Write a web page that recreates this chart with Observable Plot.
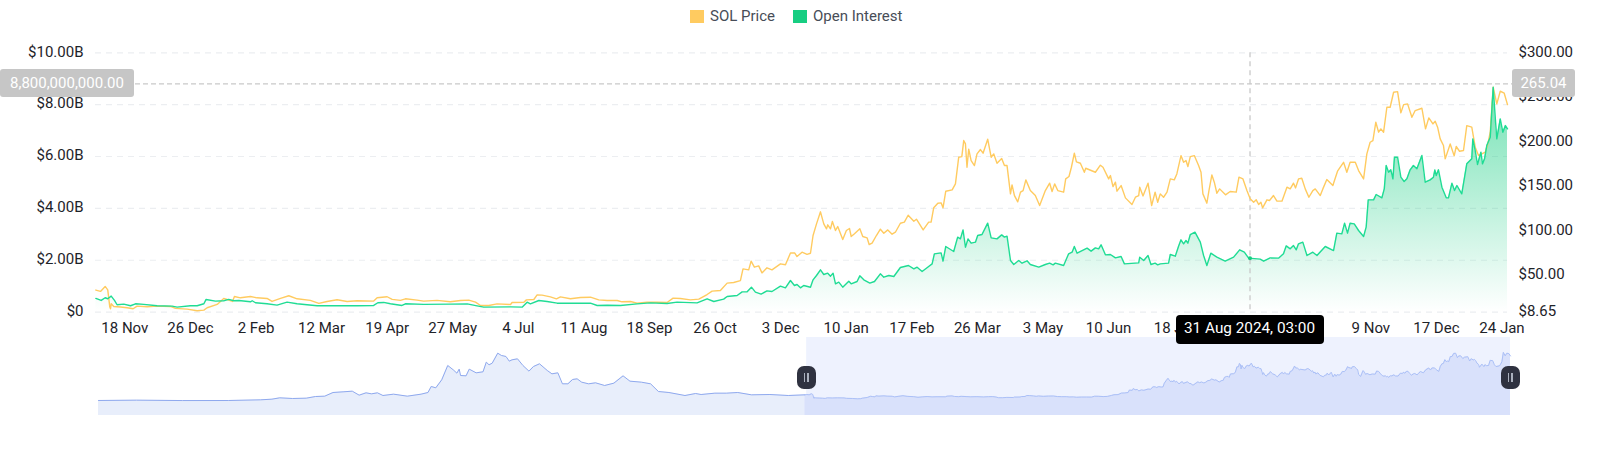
<!DOCTYPE html>
<html>
<head>
<meta charset="utf-8">
<script src="https://cdn.jsdelivr.net/npm/d3@7"></script>
<script src="https://cdn.jsdelivr.net/npm/@observablehq/plot@0.6"></script>
<style>
html,body{margin:0;padding:0;background:#fff;width:1600px;height:454px;overflow:hidden;font-family:Roboto,sans-serif}
#wrap{position:relative;width:1600px;height:454px}
#legend{position:relative;height:30px;width:1600px;color:#474d57;font-size:15px}
#legend span{position:absolute;top:7px;line-height:18px}
#legend i{position:absolute;top:9.5px;width:13.5px;height:13px}
svg{display:block}
.box{position:absolute;background:#c6c6c6;color:#fff;border-radius:3px;font-size:15px;height:28px;line-height:28px;text-align:center}
.tip{position:absolute;background:#000;color:#fff;border-radius:4px;font-size:15.3px;height:29px;line-height:27px;text-align:center;width:148px}
.handle{position:absolute;width:19px;height:23px;background:#2f3240;border-radius:7px}
.handle:before,.handle:after{content:"";position:absolute;top:7px;width:1.5px;height:9px;background:#aab0bd}
.handle:before{left:7px}.handle:after{left:10.5px}
</style>
</head>
<body>
<div id="wrap">
<div id="legend"></div>
<div id="main"></div>
<div id="nav"></div>
</div>
<script>
const startUTC = Date.UTC(2022, 10, 1);
const seriesNames = ["SOL Price", "Open Interest"];
const seriesColors = ["#ffcb60", "#17ce82"];

const priceDays = [0.2,2.9,5.6,7.1,8.3,8.7,9.1,10.6,14.5,18.3,21.8,24.1,29.9,35.7,43.4,46.3,53.1,58.9,62.8,64.7,70.5,74.3,76.7,79.4,80.5,84,89.8,93.6,99.4,102.3,107.2,112,116.8,124.5,129.4,134.2,140,145.8,151.6,161.2,163.2,169,171.9,176.7,179.6,186.3,190.2,197.9,205.6,
211.5,216.3,220.2,223.1,227.9,232.7,240.5,241.4,248.2,249.7,254,255.9,258.8,263.6,267.1,269.4,275.2,281,286.8,291.6,296.5,302.3,305.1,310,313.8,319.6,325.4,331.2,334.7,338.9,344.7,349.6,354.4,357.3,362.1,366,369.8,373.7,375.2,378.5,379.9,381.8,384.3,386.2,389.1,392,396.9,399.8,402.7,405.2,406.5,409.4,412.3,414.3,
415.8,417.8,420.1,422,423.6,424.3,425.9,427,428.8,430.1,433,435.1,436.9,437.9,439.8,442.9,444.6,447.1,448.3,450,452.5,454.8,456.8,459.1,461.6,463.5,466.4,468.7,470.9,474.2,475.7,479.6,482.8,484.2,485.7,488.1,490,491.1,492.7,496.4,498.3,500.2,502,503.1,504.1,505,506,507.4,509.3,510.8,512.8,514.3,517,519,520.5,522.4,525.1,526.7,528.2,530.2,531.1,532.5,534.4,536,537.5,539.1,541.7,544.6,547.1,550.4,552.9,554.3,555.8,557.6,561,562.2,564.1,565.5,567.2,568.4,570.7,573,573.8,579.4,582.3,583.8,587.1,588.1,589.6,591,591.9,594.3,596.8,600.6,602.6,604.5,605.1,607,609.9,612,614,615.5,617,
618.9,620.9,622.8,625.1,626.6,629,630.5,631.9,633,634.4,636.7,639.2,640.6,641.7,644,645.2,646.9,648.3,649.8,651.4,654.8,657.5,661,662.6,664.9,667.2,669.1,671.1,672.6,674,675.3,676.3,678.8,680.3,682.6,684.6,687.5,690.4,692.3,694.2,695.4,697.1,699,701,703.1,705.4,706.8,709.7,711.2,713.5,717,719.7,723.2,725.1,727,730,731.9,734.8,736.7,738.6,740.2,741.9,743.5,744.8,746.4,748.3,750.2,752.2,754.5,756.4,758,760.3,762.8,764.7,768.6,770.7,772.6,775,776.3,777.7,779.2,781.1,782.1,785,787.3,788.5,790.4,792.7,794.6,797.5,799.5,801.4,805.3,806.6,808.2,809.9,812,814,816.3,818.2];
const priceValues = [33.4,31.9,37.5,33.7,14.3,12.4,18,15,14.3,13.5,12.4,15.4,14.6,15.4,15,12.8,12,10.2,10.9,13.5,17.3,24,22.5,20.6,26.2,24.7,26.2,24.7,24,20.6,24,27,23.6,21.8,18.4,20.6,22.5,20.6,21.4,21,24.7,25.9,22.9,21.8,23.6,22.1,21,21.8,20.3,
21.7,22.1,19.8,16.1,16.1,17.9,17.2,19.4,19.8,22.4,22.8,28,27.7,25.8,23.6,25.8,23.6,25,25.4,22.4,21.7,21.7,20.2,20.6,18.7,19.8,19.8,19.4,24.3,23.9,22.4,23.2,28.4,32.2,32.9,41.2,41.9,44.1,57.2,56.1,65.9,59.1,60.6,52.7,58.4,56.1,62.9,61.8,75,75,71.1,76,73.6,74.8,
94.7,107.8,121.3,107.8,102.2,106.7,102.2,110.4,100.3,104.8,90.2,100.3,102.6,93.6,96.6,102.2,93.6,92.1,84.6,86.1,94.7,101.8,97.3,101,96.2,98.4,108.5,109.7,117.5,110.8,113,101,109.7,109.7,125.8,131,131.4,125.8,144.5,146,152.7,182.7,183.4,201.4,197.6,171.4,191.7,178.9,173.3,186.4,191.3,187.2,202.9,182.7,186.4,175.9,181.2,173.3,173.3,141.5,151.6,139.6,132.5,143.4,145.2,157.2,145.2,139.6,128.4,145.2,153.5,144.1,152.7,145.2,143.4,158.3,161,171.4,187.2,177.4,175.9,165.8,170.3,165.8,173.7,171.4,158.3,162.1,149.7,154.6,144.5,150.8,137,129.5,137.7,139.6,149,139.2,153.5,128.4,143.4,132.1,141.5,
137.7,143.4,158.3,157.2,163.9,184.5,177,178.9,172.2,183.4,184.5,173.3,165.8,141.5,131,145.2,162.8,154.6,142.2,147.1,140.4,144.1,143.4,160.2,158.3,145.2,135.9,132.1,134.8,129.5,132.1,125.8,134.8,134,139.6,133.3,133.3,149,147.1,153.5,148.2,158.3,159.1,147.1,137.7,145.2,147.1,139.6,147.1,157.6,150.8,167,177,165.8,177,177,167.7,158.3,186.4,199.5,201.4,222,210.8,214.5,210.8,238.8,238.8,255.7,256.4,232.5,241.8,242.6,227.6,235.1,237.7,214.5,226.9,220.1,223.1,216.4,203.3,195.8,180.8,197.6,184.2,194.7,189.4,190.2,218.2,216.4,193.9,184.5,188.3,195.8,210.8,261.3,242.6,256.8,254.6,241.8];

const oiDays = [0.2,3.3,5.6,7.1,9.1,11,12.5,16.4,20.3,23.2,28,35.7,44.4,47.3,55,58.9,62.8,64.1,69.5,74.3,77.2,80.1,83,89.8,90.8,92.7,99.4,105.2,111,116.8,128.4,140,151.6,161.2,163.6,167,170.9,177.6,179.6,190.2,205.7,
215.4,221.1,225,240.5,247.2,250.1,252,256.9,261.7,267.5,277.1,286.8,290.7,296.5,304.2,313.8,321.6,331.2,337,348.6,354.4,358.3,364,366,371.8,374.7,377.6,380.1,382.4,385.7,389.1,392,396.9,399.8,402.7,405,406.5,408.5,410.4,414.3,
415.8,417.8,420.1,422,424.3,425.9,427.4,428.8,430.7,433,436.5,437.9,441.3,442.9,445.2,448.7,451.4,454.8,456.8,459.7,462.6,466.4,471.1,474.2,476.1,479,482.8,484.8,486.1,490,491.1,492.7,497.3,499.6,501.2,502.7,504.1,505.6,507.4,509.9,511.2,513.7,517,519,522.4,525.1,526.7,528.2,530.2,532.1,535,536.9,539.8,541.7,546.6,550.4,552.9,554.9,556.2,561,563.9,565.9,567.2,568.8,574.6,576.9,579.4,581.3,582.7,585.2,588.1,591,594.3,596.2,604.5,605.1,607.4,609.9,611.6,614,615.5,617,
621.8,622.8,625.7,627.6,629,630.5,631.9,633,634.4,637.1,640.2,642.1,644,646.3,649.8,654.6,659.5,663,665.7,668.2,674.9,676.9,680.7,685.5,688.4,690,692.3,694.2,695.8,697.1,699.6,702,705.4,707.8,712.6,717.4,719.3,722.2,723.8,725.5,727,729.4,731.9,734.8,736.3,737.5,740.6,742.1,745.4,746.8,747.9,749.3,750.6,751.8,752.7,754.5,756.4,758.3,759.9,761.8,763.7,765.7,768.6,770.5,773.4,775.3,776.1,776.9,778.2,780.2,782.7,784,786,787.5,788.9,791.7,794.6,797.5,798.1,799.5,800.8,802.8,803.7,804.9,806.2,808.2,809.9,811.3,812,814,815.5,817,818.2];
const oiValues = [0.527,0.45,0.553,0.514,0.617,0.45,0.283,0.308,0.244,0.321,0.296,0.244,0.231,0.193,0.244,0.244,0.321,0.488,0.424,0.437,0.488,0.437,0.45,0.398,0.437,0.36,0.321,0.27,0.386,0.321,0.244,0.244,0.244,0.257,0.36,0.373,0.321,0.257,0.321,0.296,0.308,
0.319,0.242,0.19,0.203,0.19,0.383,0.319,0.447,0.409,0.344,0.344,0.344,0.254,0.267,0.254,0.319,0.357,0.332,0.383,0.357,0.512,0.409,0.499,0.602,0.64,0.781,0.781,0.961,0.769,0.692,0.82,0.794,1.0,0.936,1.219,1.026,1.064,0.936,1.026,0.96,
1.244,1.411,1.63,1.45,1.501,1.386,1.501,1.09,1.154,0.961,1.193,1.09,1.18,1.398,1.244,1.116,1.18,1.476,1.347,1.411,1.373,1.72,1.797,1.668,1.733,1.566,1.758,1.861,2.247,2.285,1.964,2.53,2.337,2.89,2.825,3.172,2.504,2.825,2.658,2.697,2.954,2.992,3.429,2.864,2.825,2.979,2.89,2.928,1.99,1.835,1.99,1.887,1.977,1.835,1.733,1.835,1.887,1.823,1.887,1.797,2.247,2.311,2.53,2.272,2.465,2.35,2.478,2.44,2.594,2.208,2.221,2.093,2.144,1.861,1.9,2.118,1.99,2.183,1.835,1.887,1.823,1.861,
1.887,2.221,2.157,2.542,2.787,2.632,2.761,2.658,2.992,3.082,2.697,2.183,1.797,2.272,2.118,1.964,2.118,2.401,2.311,2.08,2.041,1.964,2.093,2.08,2.247,2.555,2.44,2.568,2.401,2.632,2.697,2.183,2.311,2.183,2.53,2.375,3.044,3.018,3.429,3.044,3.429,3.404,3.147,2.915,3.275,4.329,4.329,4.535,4.406,4.753,5.653,5.396,5.486,5.139,5.974,5.974,5.203,5.036,5.139,5.486,5.653,5.524,6.039,5.01,5.1,5.203,5.486,5.267,5.486,4.817,4.406,4.406,4.972,4.689,4.882,4.56,5.717,5.91,6.681,6.231,5.692,6.167,5.717,5.91,6.424,6.746,8.674,7.324,6.681,7.452,6.938,7.195,7.067];

const historyDays = [-823.2,-779,-725.6,-672.3,-634.9,-621.6,-612.5,-597.6,-581.6,-570.9,-560.2,-550.6,-538.9,-528.2,-520.2,-512.2,-505.8,-498.9,-492.5,-480.2,-464.2,-448.2,-440.2,-436.4,-431.1,-424.2,-417.2,-410.8,-406.6,-403.9,-402.3,-395.9,-392.2,-384.2,-376.2,-372.4,-369.2,-365.5,-359.1,-354.8,-349.5,-345.7,-342.5,-336.1,-329.8,-322.8,-317.5,-310.5,-301.5,-296.1,-289.2,-283.9,-277.5,-272.1,-266.8,-261.5,-253.5,-245.4,-234.8,-224.1,-213.4,-205.4,-192.1,-181.4,-172.3,-160.1,-141.4,-129.1,-122.7,-106.7,-93.4,-80.1,-64.1,-42.7,-21.4,-2.2];
const historyValues = [1.1,2.9,0.8,1,4.7,8.3,15.5,11.9,13.7,22.7,24.5,44.3,47.9,51.5,29.9,42.5,37.1,42.5,28.1,35.3,24.5,35.3,44.3,76.8,69.6,112.8,190.3,166.9,148.8,170.5,136.2,134.4,170.5,150.6,156.1,208.3,193.9,202.9,256.9,244.4,239,213.7,220.9,226.3,190.3,159.7,184.9,199.3,163.3,145.2,150.6,91.2,91.2,114.6,118.2,100.2,91.2,96.6,82.2,94.8,134.4,105.6,100.2,91.2,49.7,44.3,28.1,38.9,33.5,40.7,40.7,44.3,31.7,33.5,28.1,31.7];

const xTickDates = ["2022-11-18","2022-12-26","2023-02-02","2023-03-12","2023-04-19","2023-05-27","2023-07-04","2023-08-11","2023-09-18","2023-10-26","2023-12-03","2024-01-10","2024-02-17","2024-03-26","2024-05-03","2024-06-10","2024-07-18","2024-11-09","2024-12-17","2025-01-24"];
const oiTicks = [0,2,4,6,8,10];
const priceTicks = [8.65,50,100,150,200,250,300];
const crossDate = "2024-08-31";
const crossOI = 8.8;
const crossPrice = 265.04;
const crossDotOI = 2.08;
const tipText = "31 Aug 2024, 03:00";

const toDate = d => new Date(startUTC + d * 864e5);
const priceToAxis = d3.scaleLinear([8.65, 300], [0, 10]);
const priceData = priceDays.map((d, i) => ({date: toDate(d), value: priceToAxis(priceValues[i])}));
const oiData = oiDays.map((d, i) => ({date: toDate(d), value: oiValues[i]}));
const historyData = historyDays.map((d, i) => ({date: toDate(d), value: historyValues[i]}));
const viewData = priceDays.map((d, i) => ({date: toDate(d), value: priceValues[i]}));
const navData = historyData.concat(viewData);
const xTicks = xTickDates.map(s => new Date(s));
const viewStart = toDate(0), viewEnd = toDate(818.2), navStart = toDate(-823.2);

const textColor = "#1e2329";
const gridColor = "#eceef1";
const crossColor = "#c9c9c9";
const fontStyle = {fontFamily: "Roboto, sans-serif", fontSize: "15px", background: "transparent", overflow: "visible"};

function gradientDefs(id) {
  return () => {
    const defs = d3.create("svg:defs");
    const g = defs.append("linearGradient").attr("id", id).attr("x1", 0).attr("x2", 0).attr("y1", 0).attr("y2", 1);
    g.append("stop").attr("offset", "0%").attr("stop-color", seriesColors[1]).attr("stop-opacity", 0.6);
    g.append("stop").attr("offset", "100%").attr("stop-color", seriesColors[1]).attr("stop-opacity", 0.0);
    return defs.node();
  };
}

const main = Plot.plot({
  width: 1600, height: 307,
  marginLeft: 95, marginRight: 93, marginTop: 22.3, marginBottom: 25.4,
  style: fontStyle,
  x: {type: "utc", domain: [viewStart, viewEnd]},
  y: {domain: [0, 10]},
  marks: [
    gradientDefs("oiGrad"),
    Plot.ruleY(oiTicks, {stroke: gridColor, strokeWidth: 1.2, strokeDasharray: "6,5"}),
    Plot.areaY(oiData, {x: "date", y1: 0, y2: "value", fill: "url(#oiGrad)"}),
    Plot.ruleX([new Date(crossDate)], {stroke: crossColor, strokeWidth: 1.3, strokeDasharray: "5,4"}),
    Plot.ruleY([crossOI], {stroke: crossColor, strokeWidth: 1.3, strokeDasharray: "5,3", insetRight: -5}),
    Plot.lineY(priceData, {x: "date", y: "value", stroke: seriesColors[0], strokeWidth: 1.4}),
    Plot.lineY(oiData, {x: "date", y: "value", stroke: "#1fdc94", strokeWidth: 1.4}),
    Plot.dot([{date: new Date(crossDate), value: crossDotOI}], {x: "date", y: "value", r: 2, fill: "#17ce82"}),
    Plot.axisX(xTicks, {anchor: "bottom", label: null, tickSize: 0, tickPadding: 10.5, fill: textColor, tickFormat: d3.utcFormat("%-d %b")}),
    Plot.axisY(oiTicks, {anchor: "left", label: null, tickSize: 0, tickPadding: 12, dy: -1, fill: textColor, tickFormat: d => d === 0 ? "$0" : `$${d.toFixed(2)}B`}),
    Plot.axisY(priceTicks.map(p => priceToAxis(p)), {anchor: "right", label: null, tickSize: 0, tickPadding: 11, dy: -1, fill: textColor, tickFormat: d => "$" + priceToAxis.invert(d).toFixed(2)})
  ]
});
document.getElementById("main").appendChild(main);

const navLow = -80, navHigh = 341.6;
const nav = Plot.plot({
  width: 1600, height: 78,
  marginLeft: 98, marginRight: 90, marginTop: 0, marginBottom: 0,
  style: fontStyle,
  x: {type: "utc", domain: [navStart, viewEnd], axis: null},
  y: {domain: [navLow, navHigh], axis: null},
  marks: [
    Plot.rectY([0], {x1: viewStart, x2: viewEnd, y1: navLow, y2: navHigh, fill: "#eef2fe"}),
    Plot.areaY(navData.filter(d => d.date <= viewStart), {x: "date", y1: navLow, y2: "value", fill: "#e8eefb"}),
    Plot.areaY(navData.filter(d => d.date >= toDate(-2.2)), {x: "date", y1: navLow, y2: "value", fill: "#d9e1fb"}),
    Plot.lineY(historyData, {x: "date", y: "value", stroke: "#8fa9ee", strokeWidth: 1}),
    Plot.lineY([historyData[historyData.length - 1]].concat(viewData), {x: "date", y: "value", stroke: "#abc0f7", strokeWidth: 1})
  ]
});
document.getElementById("nav").appendChild(nav);

// legend
const legend = document.getElementById("legend");
[[690, 710], [793, 813]].forEach(([sx, tx], i) => {
  const sw = document.createElement("i");
  sw.style.left = sx + "px"; sw.style.background = seriesColors[i];
  legend.appendChild(sw);
  const t = document.createElement("span");
  t.style.left = tx + "px"; t.textContent = seriesNames[i];
  legend.appendChild(t);
});

// crosshair labels, tooltip and handles placed through the chart scales
const wrap = document.getElementById("wrap");
const mainX = main.scale("x"), mainY = main.scale("y"), navX = nav.scale("x");
function add(cls, left, top, text, width) {
  const el = document.createElement("div");
  el.className = cls;
  el.style.left = left + "px"; el.style.top = top + "px";
  if (width) el.style.width = width + "px";
  if (text) el.textContent = text;
  wrap.appendChild(el);
}
const crossTop = 30 + mainY.apply(crossOI) - 14;
add("box", 0, crossTop, d3.format(",.2f")(crossOI * 1e9), 134);
add("box", 1512, crossTop, crossPrice.toFixed(2), 63);
add("tip", mainX.apply(new Date(crossDate)) - 74, 315, tipText);
add("handle", navX.apply(viewStart) - 9.5, 366);
add("handle", navX.apply(viewEnd) - 9.5, 366);
</script>
</body>
</html>
